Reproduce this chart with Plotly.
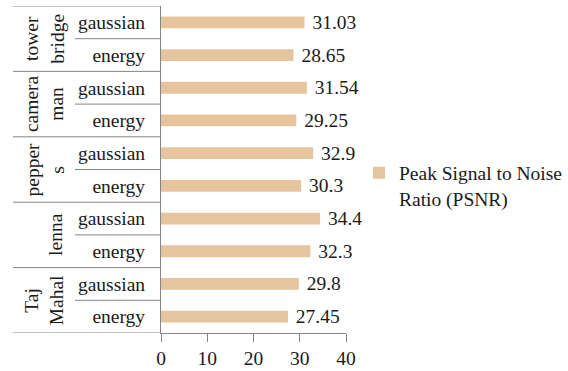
import plotly.graph_objects as go

# Images and seam-carving methods compared by PSNR
images = ["tower<br>bridge", "camera<br>man", "pepper<br>s", "lenna", "Taj<br>Mahal"]
methods = ["gaussian", "energy"]
psnr = [31.03, 28.65, 31.54, 29.25, 32.9, 30.3, 34.4, 32.3, 29.8, 27.45]
x_ticks = [0, 10, 20, 30, 40]

FONT = "Liberation Serif"
FS = 19.5
BAR_COLOR = "#E6C59E"
LINE_COLOR = "#858585"
TEXT_COLOR = "#1a1a1a"

n_rows = len(images) * len(methods)
rows = list(range(n_rows))
row_labels = [m for _ in images for m in methods]

fig = go.Figure()
fig.add_trace(go.Bar(
    x=psnr,
    y=rows,
    orientation="h",
    width=0.36,
    marker=dict(color=BAR_COLOR, line=dict(width=0)),
    text=psnr,
    texttemplate=" %{x}",
    textposition="outside",
    constraintext="none",
    textfont=dict(family=FONT, size=FS, color=TEXT_COLOR),
    cliponaxis=False,
    name="Peak Signal to Noise<br>Ratio (PSNR)",
    showlegend=True,
))

# Table-style category column: group dividers and inner dividers
plot_l, plot_w = 161, 185
shapes = []
per = len(methods)
for g in range(len(images) + 1):
    yb = g * per - 0.5
    shapes.append(dict(type="line", xref="paper", yref="y",
                       x0=(13 - plot_l) / plot_w, x1=0, y0=yb, y1=yb,
                       line=dict(color=LINE_COLOR, width=1)))
for g in range(len(images)):
    for k in range(1, per):
        yb = g * per + k - 0.5
        shapes.append(dict(type="line", xref="paper", yref="y",
                           x0=(75 - plot_l) / plot_w, x1=0, y0=yb, y1=yb,
                           line=dict(color=LINE_COLOR, width=1)))

annotations = []
for g, name in enumerate(images):
    n_lines = name.count("<br>") + 1
    cx = 68 - n_lines * 12
    annotations.append(dict(
        text=name, xref="paper", yref="y",
        x=(cx - plot_l) / plot_w, y=g * per + (per - 1) / 2,
        xanchor="center", yanchor="middle", textangle=-90,
        showarrow=False, font=dict(family=FONT, size=FS, color=TEXT_COLOR),
    ))

fig.update_layout(
    width=568, height=371,
    margin=dict(l=plot_l, r=568 - plot_l - plot_w, t=5.5, b=38, autoexpand=False),
    paper_bgcolor="white", plot_bgcolor="white",
    font=dict(family=FONT, size=FS, color=TEXT_COLOR),
    shapes=shapes,
    annotations=annotations,
    showlegend=True,
    legend=dict(xref="container", yref="container", x=0.632, y=0.5,
                xanchor="left", yanchor="middle", valign="top",
                itemwidth=30,
                font=dict(family=FONT, size=FS, color=TEXT_COLOR),
                bgcolor="rgba(0,0,0,0)"),
)
fig.update_xaxes(
    range=[0, 40], tickvals=x_ticks, showgrid=False, zeroline=False,
    showline=True, linecolor=LINE_COLOR, linewidth=1,
    ticks="outside", ticklen=8, tickcolor=LINE_COLOR,
    tickfont=dict(family=FONT, size=FS, color=TEXT_COLOR),
    automargin=False,
)
fig.update_yaxes(
    range=[n_rows - 0.5, -0.5], tickvals=rows, ticktext=row_labels,
    showgrid=False, zeroline=False,
    showline=True, linecolor=LINE_COLOR, linewidth=1,
    ticks="", ticklabelstandoff=11,
    tickfont=dict(family=FONT, size=FS, color=TEXT_COLOR),
    automargin=False,
)

fig.write_html("out.html")
